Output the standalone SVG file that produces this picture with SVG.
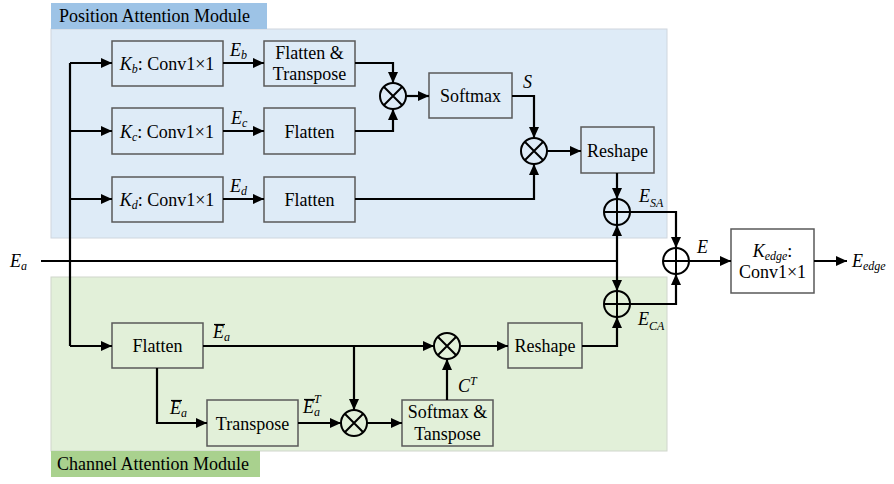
<svg xmlns="http://www.w3.org/2000/svg" width="894" height="484" viewBox="0 0 894 484" font-family="'Liberation Serif', 'Times New Roman', Tinos, 'DejaVu Serif', serif">
<style>
text{font-family:'Liberation Serif','Times New Roman',Tinos,'DejaVu Serif',serif;font-size:18px;fill:#000}
.i{font-style:italic}
.sub{font-size:12px;font-style:italic}
.m{text-anchor:middle}
.bp{fill:#deebf7;stroke:#595959;stroke-width:1.5}
.bc{fill:#e2f0d9;stroke:#595959;stroke-width:1.5}
.bw{fill:#fff;stroke:#595959;stroke-width:1.5}
.op{fill:none;stroke:#000;stroke-width:2}
.w{fill:none;stroke:#000;stroke-width:2.2}
.a{marker-end:url(#ah)}
.ob{stroke:#000;stroke-width:1.2}
</style>
<defs>
<marker id="ah" markerUnits="userSpaceOnUse" markerWidth="11" markerHeight="10" refX="11" refY="5" orient="auto">
<path d="M0,0 L11,5 L0,10 z" fill="#000"/>
</marker>
</defs>

<g id="position-module">
<rect x="51" y="29" width="616" height="209" fill="#deebf7" stroke="#cfd6de" stroke-width="1"/>
<rect x="51" y="3" width="216" height="26" fill="#9dc3e6"/>
<text x="59" y="22">Position Attention Module</text>
</g>
<g id="channel-module">
<rect x="51" y="277" width="616" height="174" fill="#e2f0d9" stroke="#d0d6cc" stroke-width="1"/>
<rect x="51" y="451" width="209" height="26" fill="#a9d18e"/>
<text x="57" y="470">Channel Attention Module</text>
</g>

<g id="kb"><rect class="bp" x="112" y="41" width="111" height="45"/>
<text x="167" y="70" class="m"><tspan class="i">K</tspan><tspan class="sub" dy="3">b</tspan><tspan dy="-3">: Conv1×1</tspan></text></g>
<g id="kc"><rect class="bp" x="112" y="108" width="111" height="46"/>
<text x="167" y="138" class="m"><tspan class="i">K</tspan><tspan class="sub" dy="3">c</tspan><tspan dy="-3">: Conv1×1</tspan></text></g>
<g id="kd"><rect class="bp" x="112" y="177" width="111" height="45"/>
<text x="167" y="206" class="m"><tspan class="i">K</tspan><tspan class="sub" dy="3">d</tspan><tspan dy="-3">: Conv1×1</tspan></text></g>
<g id="flatten-transpose"><rect class="bp" x="264" y="41" width="91" height="45"/>
<text x="309.5" y="59" class="m">Flatten &amp;</text><text x="309.5" y="80" class="m">Transpose</text></g>
<g id="flatten-c"><rect class="bp" x="264" y="108" width="91" height="46"/>
<text x="309.5" y="138" class="m">Flatten</text></g>
<g id="flatten-d"><rect class="bp" x="264" y="177" width="91" height="45"/>
<text x="309.5" y="206" class="m">Flatten</text></g>
<g id="mul1"><circle class="op" cx="393" cy="96" r="13"/><path class="op" d="M383.8,86.8 L402.2,105.2 M402.2,86.8 L383.8,105.2"/></g>
<g id="softmax"><rect class="bp" x="429" y="73" width="83" height="45"/>
<text x="470.5" y="102" class="m">Softmax</text></g>
<g id="mul2"><circle class="op" cx="534" cy="151" r="13"/><path class="op" d="M524.8,141.8 L543.2,160.2 M543.2,141.8 L524.8,160.2"/></g>
<g id="reshape-p"><rect class="bp" x="581" y="127" width="73" height="46"/>
<text x="617.5" y="157" class="m">Reshape</text></g>
<g id="add-sa"><circle class="op" cx="617" cy="212" r="13"/><path class="op" d="M604,212 H630 M617,199 V225"/></g>
<g id="add-ca"><circle class="op" cx="617" cy="304" r="13"/><path class="op" d="M604,304 H630 M617,291 V317"/></g>
<g id="add-e"><circle class="op" cx="676" cy="261" r="13"/><path class="op" d="M663,261 H689 M676,248 V274"/></g>
<g id="kedge"><rect class="bw" x="731" y="229" width="83" height="64"/>
<text x="772.5" y="257" class="m"><tspan class="i">K</tspan><tspan class="sub" dy="3">edge</tspan><tspan dy="-3">:</tspan></text>
<text x="772.5" y="278" class="m">Conv1×1</text></g>

<g id="flatten-ch"><rect class="bc" x="112" y="323" width="91" height="45"/>
<text x="157.5" y="352" class="m">Flatten</text></g>
<g id="transpose"><rect class="bc" x="207" y="400" width="91" height="46"/>
<text x="252.5" y="430" class="m">Transpose</text></g>
<g id="mul3"><circle class="op" cx="354" cy="423" r="13"/><path class="op" d="M344.8,413.8 L363.2,432.2 M363.2,413.8 L344.8,432.2"/></g>
<g id="softmax-transpose"><rect class="bc" x="402" y="400" width="91" height="46"/>
<text x="447.5" y="418" class="m">Softmax &amp;</text><text x="447.5" y="440" class="m">Tanspose</text></g>
<g id="mul4"><circle class="op" cx="447" cy="346" r="13"/><path class="op" d="M437.8,336.8 L456.2,355.2 M456.2,336.8 L437.8,355.2"/></g>
<g id="reshape-c"><rect class="bc" x="508" y="323" width="74" height="45"/>
<text x="545" y="352" class="m">Reshape</text></g>

<g id="connectors">
<path class="w" d="M41,261 H617"/>
<path class="w" d="M70,63 V346"/>
<path class="w a" d="M70,63 H112"/>
<path class="w a" d="M70,131 H112"/>
<path class="w a" d="M70,199 H112"/>
<path class="w a" d="M70,346 H112"/>
<path class="w a" d="M223,63 H264"/>
<path class="w a" d="M223,131 H264"/>
<path class="w a" d="M223,199 H264"/>
<path class="w a" d="M355,63 H393 V83"/>
<path class="w a" d="M355,131 H393 V109"/>
<path class="w a" d="M406,96 H429"/>
<path class="w a" d="M512,96 H534 V138"/>
<path class="w a" d="M355,199 H534 V164"/>
<path class="w a" d="M547,151 H581"/>
<path class="w a" d="M617,173 V199"/>
<path class="w a" d="M617,261 V225"/>
<path class="w a" d="M617,261 V291"/>
<path class="w a" d="M630,212 H676 V248"/>
<path class="w a" d="M630,304 H676 V274"/>
<path class="w a" d="M689,261 H731"/>
<path class="w a" d="M814,261 H847"/>
<path class="w a" d="M203,346 H434"/>
<path class="w a" d="M354,346 V410"/>
<path class="w a" d="M157,368 V423 H207"/>
<path class="w a" d="M298,423 H341"/>
<path class="w a" d="M367,423 H402"/>
<path class="w a" d="M447,400 V359"/>
<path class="w a" d="M460,346 H508"/>
<path class="w a" d="M582,346 H617 V317"/>
</g>

<g id="labels">
<text x="10" y="267" class="i">E<tspan class="sub" dy="3">a</tspan></text>
<text x="230" y="56" class="i">E<tspan class="sub" dy="3">b</tspan></text>
<text x="231" y="124" class="i">E<tspan class="sub" dy="3">c</tspan></text>
<text x="230" y="192" class="i">E<tspan class="sub" dy="3">d</tspan></text>
<text x="523" y="88" class="i">S</text>
<text x="639" y="202" class="i">E<tspan class="sub" dy="5">SA</tspan></text>
<text x="638" y="325" class="i">E<tspan class="sub" dy="5">CA</tspan></text>
<text x="697" y="253" class="i">E</text>
<text x="852" y="267" class="i">E<tspan class="sub" dy="3">edge</tspan></text>
<text x="213" y="338" class="i">E<tspan class="sub" dy="3">a</tspan></text>
<path class="ob" d="M214,324.5 H225"/>
<text x="170" y="414" class="i">E<tspan class="sub" dy="3">a</tspan></text>
<path class="ob" d="M171,400.5 H182"/>
<text x="303" y="413" class="i">E<tspan class="sub" dy="3">a</tspan><tspan class="sub" dx="-6" dy="-13">T</tspan></text>
<path class="ob" d="M304,399.5 H315"/>
<text x="458" y="392" class="i">C<tspan class="sub" dy="-7">T</tspan></text>
</g>
</svg>
